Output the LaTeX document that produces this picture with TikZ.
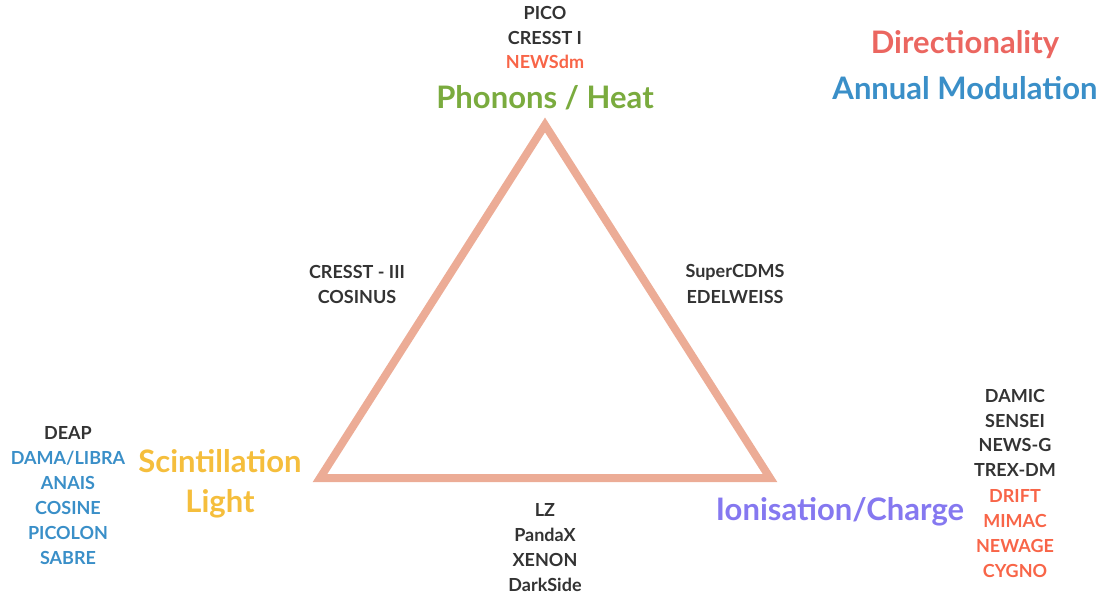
\documentclass[tikz,border=0pt]{standalone}
\usepackage{fontspec}
\setmainfont{Lato}
\definecolor{tri}{RGB}{236,172,150}
\definecolor{dark}{RGB}{51,51,51}
\definecolor{heat}{RGB}{122,171,62}
\definecolor{dirc}{RGB}{235,102,96}
\definecolor{modc}{RGB}{58,143,200}
\definecolor{newc}{RGB}{248,101,72}
\definecolor{lightc}{RGB}{245,190,60}
\definecolor{chargec}{RGB}{133,120,240}
\tikzset{
  lab/.style={font=\fontsize{18}{18}\selectfont\bfseries, text=dark, inner sep=0pt, anchor=center},
  big/.style={font=\fontsize{31}{40}\selectfont\bfseries, inner sep=0pt, anchor=center, align=center},
}
\begin{document}
\begin{tikzpicture}[x=1pt,y=-1pt]
\useasboundingbox (0,0) rectangle (1109,598);
\coordinate (top) at (545,125);
\coordinate (bl) at (320,478);
\coordinate (br) at (770,478);
\draw[tri, line width=8pt, line join=miter] (top) -- (br) -- (bl) -- cycle;
% top
\node[lab] (pico) at (545,13) {PICO};
\node[lab] (cresst1) at (545,38) {CRESST I};
\node[lab, text=newc] (newsdm) at (545,62) {NEWSdm};
\node[big, text=heat] (heat) at (545,98) {Phonons / Heat};
% legend
\node[big, text=dirc] (dir) at (965,45) {Directionality};
\node[big, text=modc] (mod) at (965,88) {Annual Modulation};
% sides
\node[lab] (c3) at (357,272) {CRESST - III};
\node[lab] (cos) at (357,297) {COSINUS};
\node[lab] (scdms) at (735,272) {SuperCDMS};
\node[lab] (edel) at (735,297) {EDELWEISS};
% left
\node[lab] (deap) at (68,433) {DEAP};
\node[lab, text=modc] (dama) at (68,458) {DAMA/LIBRA};
\node[lab, text=modc] (anais) at (68,483) {ANAIS};
\node[lab, text=modc] (cosine) at (68,508) {COSINE};
\node[lab, text=modc] (picolon) at (68,533) {PICOLON};
\node[lab, text=modc] (sabre) at (68,558) {SABRE};
\node[big, text=lightc] (light) at (220,484) {Scintillation\\Light};
% bottom
\node[lab] (lz) at (545,510) {LZ};
\node[lab] (panda) at (545,535) {PandaX};
\node[lab] (xenon) at (545,560) {XENON};
\node[lab] (dark) at (545,585) {DarkSide};
% right
\node[big, text=chargec] (charge) at (840,512) {Ionisation/Charge};
\node[lab] (damic) at (1015,396) {DAMIC};
\node[lab] (sensei) at (1015,421) {SENSEI};
\node[lab] (newsg) at (1015,445) {NEWS-G};
\node[lab] (trex) at (1015,470) {TREX-DM};
\node[lab, text=newc] (drift) at (1015,496) {DRIFT};
\node[lab, text=newc] (mimac) at (1015,521) {MIMAC};
\node[lab, text=newc] (newage) at (1015,546) {NEWAGE};
\node[lab, text=newc] (cygno) at (1015,571) {CYGNO};
\end{tikzpicture}
\end{document}
